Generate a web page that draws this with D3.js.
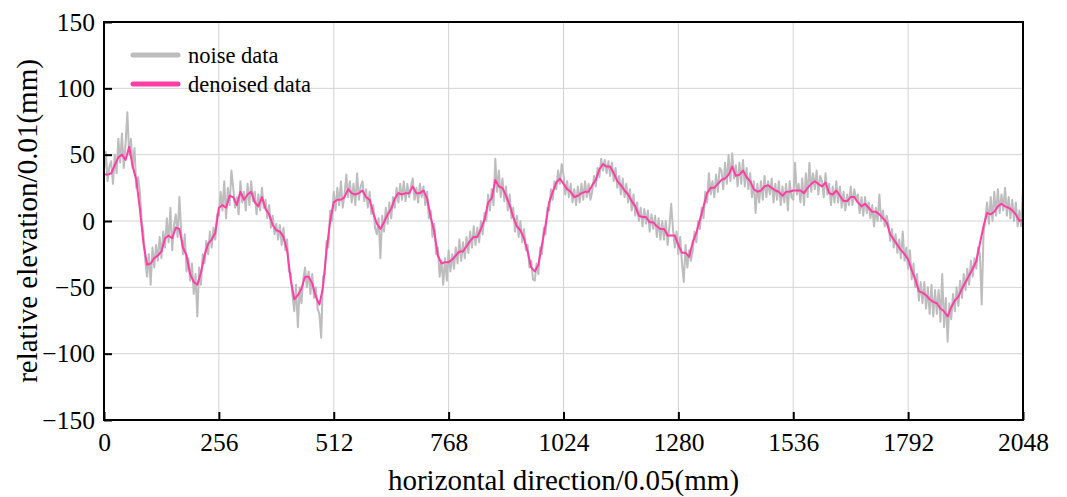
<!DOCTYPE html>
<html>
<head>
<meta charset="utf-8">
<script src="https://cdn.jsdelivr.net/npm/d3@7"></script>
<style>
  html, body { margin: 0; padding: 0; background: #fff; }
  svg { display: block; font-family: "Liberation Serif", "Times New Roman", serif; }
</style>
</head>
<body>
<svg id="chart" width="1067" height="497"></svg>
<script>
// ---- data ----
const xTicks = [0, 256, 512, 768, 1024, 1280, 1536, 1792, 2048];
const yTicks = [-150, -100, -50, 0, 50, 100, 150];
const seriesNames = ["noise data", "denoised data"];
const noiseStep = 4;      // sample spacing of the noise series
const denoisedStep = 8;   // sample spacing of the denoised series

const noiseValues = [
  38, 52, 30, 41, 45, 28, 50, 36,
  62, 44, 66, 40, 58, 82, 50, 62,
  40, 55, 25, 33, 22, 0, -10, -30,
  -42, -25, -48, -20, -35, -18, -30, -12,
  -28, -8, -20, 2, -16, 10, -22, -3,
  5, -12, 18, -8, -25, -10, -38, -28,
  -45, -32, -55, -40, -72, -35, -48, -25,
  -32, -15, -25, -8, -20, -5, -14, 5,
  4, 22, 8, 30, 2, 25, 12, 38,
  25, 10, 18, 5, 30, 14, 22, 8,
  28, 12, 30, 15, 22, 5, 20, 8,
  25, 10, 16, 2, 12, -5, 4, -10,
  -2, -14, -3, -18, -5, -22, -14, -38,
  -40, -56, -68, -48, -80, -50, -62, -44,
  -35, -50, -38, -55, -40, -58, -50, -66,
  -70, -88, -42, -40, -15, -20, 8, 0,
  22, 8, 25, 12, 30, 10, 20, 35,
  18, 30, 14, 28, 12, 36, 16, 26,
  30, 15, 24, 10, 22, 5, 12, -5,
  -10, 2, -28, 4, -8, 10, -2, 14,
  2, 18, 10, 25, 14, 28, 16, 30,
  15, 28, 18, 26, 32, 16, 25, 14,
  28, 18, 26, 12, 22, 2, 8, -12,
  -2, -25, -20, -42, -30, -48, -28, -45,
  -22, -38, -25, -36, -20, -32, -14, -30,
  -16, -28, -12, -24, -8, -20, -4, -18,
  -5, -16, 0, -10, 6, 0, 20, 8,
  24, 12, 47, 22, 38, 18, 32, 15,
  26, 8, 20, 2, 10, -8, 4, -12,
  0, -16, -6, -22, -18, -35, -30, -44,
  -45, -32, -40, -20, -25, -5, -10, 10,
  8, 24, 16, 30, 24, 38, 28, 43,
  35, 20, 30, 18, 28, 14, 24, 12,
  26, 14, 28, 16, 30, 18, 28, 16,
  22, 34, 26, 40, 33, 47, 38, 46,
  36, 45, 34, 44, 30, 40, 25, 34,
  20, 32, 18, 28, 14, 24, 8, 20,
  4, 14, 0, 10, -4, 9, -2, 8,
  -8, 5, -6, 4, -12, 2, -14, 0,
  -14, 0, -18, -4, 13, -6, -20, -8,
  -25, -12, -32, -46, -18, -35, -22, -30,
  -22, -8, -16, 0, -6, 10, 2, 22,
  14, 36, 20, 30, 18, 35, 22, 40,
  38, 24, 44, 28, 50, 30, 51, 32,
  42, 26, 44, 28, 46, 26, 40, 24,
  36, 18, 30, 6, 28, 14, 30, 16,
  34, 18, 30, 20, 32, 14, 28, 16,
  30, 12, 26, 14, 28, 8, 30, 18,
  16, 44, 20, 28, 14, 32, 12, 36,
  18, 44, 22, 36, 24, 38, 20, 34,
  30, 18, 36, 20, 28, 12, 26, 14,
  30, 14, 26, 10, 22, 8, 20, 12,
  26, 12, 24, 16, 20, 6, 18, 4,
  18, 6, 14, 2, 12, -4, 10, 0,
  20, 0, 8, -4, 4, -2, -15, -6,
  -20, -10, -24, -14, -28, -8, -30, -20,
  -36, -22, -44, -32, -50, -40, -60, -46,
  -62, -46, -66, -50, -70, -48, -72, -52,
  -70, -52, -76, -40, -80, -58, -91, -62,
  -74, -55, -68, -50, -64, -45, -58, -40,
  -52, -36, -48, -30, -42, -28, -36, -20,
  -25, -63, -10, 2, 14, -2, 18, 0,
  22, 4, 24, 6, 20, 8, 25, 4,
  18, 2, 16, 0, 14, -4, 8, -4,
  25
];

const denoisedValues = [
  35, 35, 36, 42, 48, 50, 46, 56, 41, 31, 9, -17, -33, -32, -28, -26,
  -23, -13, -11, -13, -5, -6, -20, -26, -40, -46, -48, -39, -26, -17, -14, -9,
  10, 12, 10, 19, 18, 12, 22, 16, 20, 22, 14, 11, 18, 9, 5, -3,
  -7, -8, -12, -22, -44, -59, -56, -51, -42, -42, -47, -57, -63, -50, -22, 0,
  14, 16, 16, 18, 24, 21, 20, 21, 23, 18, 16, 6, -2, -6, -1, 5,
  9, 17, 21, 20, 21, 21, 26, 21, 21, 23, 17, 3, -8, -26, -32, -31,
  -31, -29, -26, -23, -23, -19, -15, -12, -12, -6, 1, 14, 17, 31, 26, 25,
  19, 12, 3, -4, -7, -13, -23, -35, -38, -33, -18, -3, 14, 22, 29, 32,
  28, 24, 22, 18, 19, 21, 22, 22, 27, 31, 39, 43, 41, 41, 36, 30,
  27, 23, 20, 15, 11, 4, 3, 3, -1, -1, -4, -6, -6, -11, -11, -11,
  -18, -24, -24, -27, -16, -9, 1, 11, 21, 25, 25, 28, 31, 32, 35, 41,
  34, 35, 38, 33, 30, 24, 22, 23, 26, 27, 25, 23, 22, 19, 22, 22,
  23, 23, 23, 21, 25, 28, 30, 28, 26, 29, 21, 20, 23, 19, 15, 15,
  18, 18, 14, 11, 13, 10, 7, 7, 5, 2, -1, -10, -14, -18, -22, -25,
  -29, -37, -44, -53, -54, -56, -59, -61, -62, -66, -68, -72, -65, -60, -57, -51,
  -46, -41, -36, -30, -17, -4, 6, 5, 7, 11, 13, 11, 10, 8, 5, 0,
  1
];

const noiseData = noiseValues.map((v, i) => ({ x: i * noiseStep, y: v }));
const denoisedData = denoisedValues.map((v, i) => ({ x: i * denoisedStep, y: v }));

// ---- layout ----
const W = 1067, H = 497;
const margin = { left: 104, top: 22, right: 44, bottom: 77 };
const iw = W - margin.left - margin.right;
const ih = H - margin.top - margin.bottom;

const svg = d3.select("#chart");
const g = svg.append("g").attr("transform", `translate(${margin.left},${margin.top})`);

const x = d3.scaleLinear().domain([0, 2048]).range([0, iw]);
const y = d3.scaleLinear().domain([-150, 150]).range([ih, 0]);

const gridColor = "#d3d3d3";
// grid
g.append("g").selectAll("line.gx").data(xTicks.slice(1, -1)).join("line")
  .attr("x1", d => x(d)).attr("x2", d => x(d)).attr("y1", 0).attr("y2", ih)
  .attr("stroke", gridColor).attr("stroke-width", 1);
g.append("g").selectAll("line.gy").data(yTicks.slice(1, -1)).join("line")
  .attr("x1", 0).attr("x2", iw).attr("y1", d => y(d)).attr("y2", d => y(d))
  .attr("stroke", gridColor).attr("stroke-width", 1);

// clip
svg.append("defs").append("clipPath").attr("id", "clip")
  .append("rect").attr("x", 0).attr("y", 0).attr("width", iw).attr("height", ih);

const line = d3.line().x(d => x(d.x)).y(d => y(d.y));
const plot = g.append("g").attr("clip-path", "url(#clip)");
plot.append("path").datum(noiseData).attr("d", line)
  .attr("fill", "none").attr("stroke", "#bdbdbd").attr("stroke-width", 2)
  .attr("stroke-linejoin", "round");
plot.append("path").datum(denoisedData).attr("d", line)
  .attr("fill", "none").attr("stroke", "#ff3fa6").attr("stroke-width", 2)
  .attr("stroke-linejoin", "round");

// axes
const fmt = d => d < 0 ? "\u2212" + Math.abs(d) : String(d);
const xAxis = g.append("g").attr("transform", `translate(0,${ih})`)
  .call(d3.axisBottom(x).tickValues(xTicks).tickSizeInner(-8).tickSizeOuter(0).tickPadding(13).tickFormat(fmt));
const yAxis = g.append("g")
  .call(d3.axisLeft(y).tickValues(yTicks).tickSizeInner(-8).tickSizeOuter(0).tickPadding(9).tickFormat(fmt));
[xAxis, yAxis].forEach(a => {
  a.select(".domain").remove();
  a.selectAll(".tick line").attr("stroke", "#000").attr("stroke-width", 2);
  a.selectAll(".tick text").attr("fill", "#000").attr("font-size", 25.5)
    .attr("font-family", "'Liberation Serif', 'Times New Roman', serif");
});
xAxis.selectAll(".tick text").attr("dy", "0.71em");

// frame
g.append("rect").attr("x", 0).attr("y", 0).attr("width", iw).attr("height", ih)
  .attr("fill", "none").attr("stroke", "#000").attr("stroke-width", 2);

// axis titles
svg.append("text").attr("x", margin.left + iw / 2).attr("y", 490)
  .attr("text-anchor", "middle").attr("font-size", 29).attr("fill", "#000")
  .text("horizontal direction/0.05(mm)");
svg.append("text").attr("transform", `translate(37,${margin.top + ih / 2}) rotate(-90)`)
  .attr("text-anchor", "middle").attr("font-size", 29).attr("fill", "#000")
  .text("relative elevation/0.01(mm)");

// legend
const legend = svg.append("g").attr("transform", "translate(133,55)");
const legendColors = ["#bdbdbd", "#ff3fa6"];
seriesNames.forEach((name, i) => {
  const row = legend.append("g").attr("transform", `translate(0,${i * 29})`);
  row.append("line").attr("x1", 0).attr("x2", 45).attr("y1", 0).attr("y2", 0)
    .attr("stroke", legendColors[i]).attr("stroke-width", 5).attr("stroke-linecap", "round");
  row.append("text").attr("x", 55).attr("y", 7.5).attr("font-size", 22.5).attr("fill", "#000").text(name);
});
</script>
</body>
</html>
